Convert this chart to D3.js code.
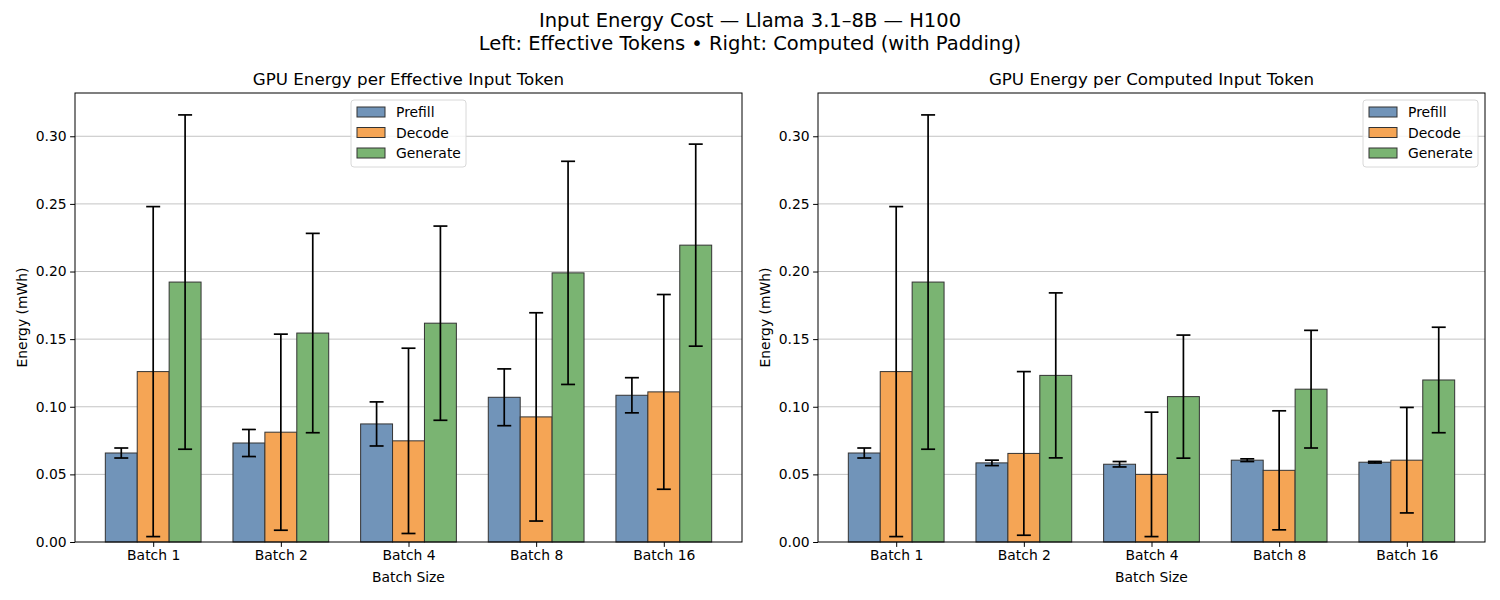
<!DOCTYPE html>
<html lang="en">
<head>
<meta charset="utf-8" />
<title>Input Energy Cost</title>
<style>
  body { margin:0; background:#fff; font-family:"DejaVu Sans",sans-serif; }
  svg  { display:block; }
  .tick text { font-size:13.9px; fill:#000; }
  .grid line { stroke:#c4c4c4; stroke-width:1px; }
</style>
</head>
<body>
<svg width="1500" height="600"></svg>

<script src="https://cdn.jsdelivr.net/npm/d3@7"></script>
<script>
/* ---------- DATA ---------- */
const batches = ["Batch 1", "Batch 2", "Batch 4", "Batch 8", "Batch 16"];
const phases  = ["Prefill", "Decode", "Generate"];
const yTicks  = [0, 0.05, 0.10, 0.15, 0.20, 0.25, 0.30];

// left: per effective input token
const effPrefill     = [0.0658, 0.0732, 0.0873, 0.1070, 0.1085];
const effPrefillErr  = [0.0037, 0.0100, 0.0163, 0.0210, 0.0130];
const effDecode      = [0.1260, 0.0812, 0.0748, 0.0925, 0.1110];
const effDecodeErr   = [0.1220, 0.0725, 0.0685, 0.0770, 0.0720];
const effGenerate    = [0.1922, 0.1545, 0.1618, 0.1990, 0.2195];
const effGenerateErr = [0.1236, 0.0737, 0.0718, 0.0825, 0.0747];

// right: per computed input token (with padding)
const cmpPrefill     = [0.0658, 0.0585, 0.0575, 0.0605, 0.0590];
const cmpPrefillErr  = [0.0037, 0.0020, 0.0020, 0.0010, 0.0006];
const cmpDecode      = [0.1260, 0.0655, 0.0500, 0.0530, 0.0605];
const cmpDecodeErr   = [0.1220, 0.0605, 0.0460, 0.0440, 0.0390];
const cmpGenerate    = [0.1922, 0.1232, 0.1075, 0.1130, 0.1198];
const cmpGenerateErr = [0.1236, 0.0610, 0.0455, 0.0435, 0.0390];

const colors = {Prefill:"#7194b9", Decode:"#f5a555", Generate:"#7ab472"};

/* ---------- LAYOUT ---------- */
const svg = d3.select("svg");
const H = {top:93, bottom:542};

svg.append("text").attr("x",750).attr("y",27).attr("text-anchor","middle")
   .style("font-size","19.5px").text("Input Energy Cost — Llama 3.1–8B — H100");
svg.append("text").attr("x",750).attr("y",50).attr("text-anchor","middle")
   .style("font-size","19.5px").text("Left: Effective Tokens • Right: Computed (with Padding)");

function panel(x0, x1, title, vals, errs, legendPos){
  const g = svg.append("g");
  // matplotlib-like x: groups at 0..n-1, bars width 0.25, 5% margin
  const n = batches.length, w = 0.25;
  const lo = -1.5*w, hi = (n-1) + 1.5*w, pad = (hi-lo)*0.05;
  const x = d3.scaleLinear().domain([lo-pad, hi+pad]).range([x0, x1]);
  const y = d3.scaleLinear().domain([0, 0.332]).range([H.bottom, H.top]);

  // grid
  g.append("g").attr("class","grid")
    .selectAll("line").data(yTicks.slice(1)).join("line")
    .attr("x1",x0).attr("x2",x1).attr("y1",d=>y(d)).attr("y2",d=>y(d));

  // bars
  phases.forEach((p, k) => {
    const off = (k-1)*w;
    const bw = x(w) - x(0);
    g.append("g").selectAll("rect").data(vals[k]).join("rect")
      .attr("x",(d,i)=>x(i+off-w/2)).attr("width",bw)
      .attr("y",d=>y(d)).attr("height",d=>y(0)-y(d))
      .attr("fill",colors[p]).attr("stroke","#333").attr("stroke-width",1);
  });

  // error bars
  phases.forEach((p, k) => {
    const off = (k-1)*w;
    const eg = g.append("g").attr("stroke","#000").attr("stroke-width",1.7);
    vals[k].forEach((v,i) => {
      const cx = x(i+off), t = y(v+errs[k][i]), b = y(Math.max(0,v-errs[k][i]));
      eg.append("line").attr("x1",cx).attr("x2",cx).attr("y1",t).attr("y2",b);
      eg.append("line").attr("x1",cx-7).attr("x2",cx+7).attr("y1",t).attr("y2",t);
      eg.append("line").attr("x1",cx-7).attr("x2",cx+7).attr("y1",b).attr("y2",b);
    });
  });

  // axes
  const xa = g.append("g").attr("transform",`translate(0,${H.bottom})`)
    .call(d3.axisBottom(x).tickValues(d3.range(n)).tickFormat(i=>batches[i]).tickSize(4.9).tickPadding(3.5));
  const ya = g.append("g").attr("transform",`translate(${x0},0)`)
    .call(d3.axisLeft(y).tickValues(yTicks).tickFormat(d3.format(".2f")).tickSize(4.9).tickPadding(3.5));
  [xa, ya].forEach(a => { a.select(".domain").remove(); a.selectAll("line").attr("stroke","#000"); a.attr("font-family",null); });

  g.append("rect").attr("x",x0).attr("y",H.top).attr("width",x1-x0).attr("height",H.bottom-H.top)
    .attr("fill","none").attr("stroke","#000").attr("stroke-width",1);

  g.append("text").attr("x",(x0+x1)/2).attr("y",85).attr("text-anchor","middle")
    .style("font-size","16.7px").text(title);
  g.append("text").attr("x",(x0+x1)/2).attr("y",582).attr("text-anchor","middle")
    .style("font-size","13.9px").text("Batch Size");
  g.append("text").attr("transform",`translate(${x0-48},${(H.top+H.bottom)/2}) rotate(-90)`)
    .attr("text-anchor","middle").style("font-size","13.9px").text("Energy (mWh)");

  // legend
  const lw = 115, lh = 67;
  const lx = legendPos === "center" ? (x0+x1)/2 - lw/2 : x1 - 7 - lw;
  const lg = g.append("g").attr("transform",`translate(${lx},100)`);
  lg.append("rect").attr("width",lw).attr("height",lh).attr("rx",3)
    .attr("fill","#fff").attr("fill-opacity",0.8).attr("stroke","#d8d8d8");
  phases.forEach((p,k) => {
    lg.append("rect").attr("x",6).attr("y",7+k*20.5).attr("width",28).attr("height",10)
      .attr("fill",colors[p]).attr("stroke","#333");
    lg.append("text").attr("x",45).attr("y",17+k*20.5).style("font-size","13.9px").text(p);
  });
}

panel(75, 742, "GPU Energy per Effective Input Token",
      [effPrefill, effDecode, effGenerate], [effPrefillErr, effDecodeErr, effGenerateErr], "center");
panel(818, 1485, "GPU Energy per Computed Input Token",
      [cmpPrefill, cmpDecode, cmpGenerate], [cmpPrefillErr, cmpDecodeErr, cmpGenerateErr], "right");
</script>
</body>
</html>
